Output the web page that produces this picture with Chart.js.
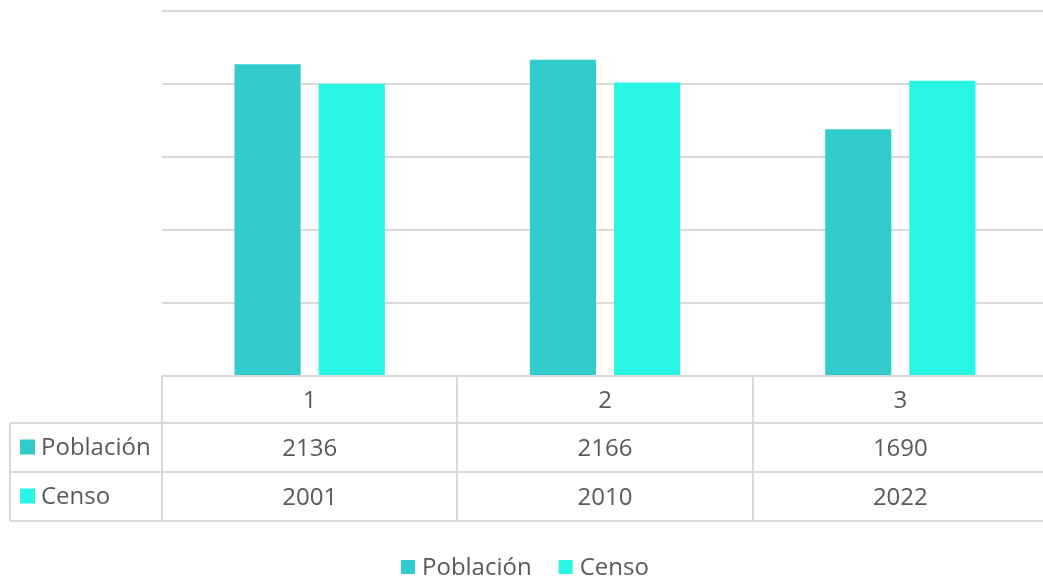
<!DOCTYPE html>
<html>
<head>
<meta charset="utf-8">
<script src="https://cdn.jsdelivr.net/npm/chart.js@4/dist/chart.umd.min.js"></script>
<style>
  html, body { margin: 0; padding: 0; background: #fff; overflow: hidden; }
  #wrap { width: 1048px; height: 580px; }
</style>
</head>
<body>
<div id="wrap"><canvas id="grafico"></canvas></div>
<script>
// Datos del gráfico
var categorias = ['1', '2', '3'];
var poblacion = [2136, 2166, 1690];
var censo = [2001, 2010, 2022];
var nombresSeries = ['Población', 'Censo'];
var coloresSeries = ['#33CCCC', '#29F5E5'];

var colorTexto = '#595959';
var colorLinea = '#d9d9d9';
var fuente = '"Open Sans", sans-serif';

// Tabla de datos y leyenda dibujadas debajo del área del gráfico
var tablaDatos = {
    id: 'tablaDatos',
    afterDraw: function(chart) {
        var ctx = chart.ctx;
        var x = chart.scales.x;
        var area = chart.chartArea;
        var anchoCat = (area.right - area.left) / categorias.length;
        var filas = [area.bottom, 423, 472, 521];
        var izq = 10;

        ctx.save();
        ctx.strokeStyle = colorLinea;
        ctx.lineWidth = 2;
        ctx.beginPath();
        // líneas horizontales
        ctx.moveTo(area.left, filas[0]); ctx.lineTo(area.right, filas[0]);
        for (var f = 1; f < filas.length; f++) {
            ctx.moveTo(izq, filas[f]); ctx.lineTo(area.right, filas[f]);
        }
        // líneas verticales
        ctx.moveTo(izq, filas[1]); ctx.lineTo(izq, filas[3]);
        for (var c = 0; c < categorias.length; c++) {
            var xl = Math.round(area.left + c * anchoCat);
            ctx.moveTo(xl, filas[0]); ctx.lineTo(xl, filas[3]);
        }
        ctx.stroke();

        ctx.fillStyle = colorTexto;
        ctx.font = '24px ' + fuente;
        ctx.textAlign = 'center';
        ctx.textBaseline = 'middle';
        categorias.forEach(function(cat, i) {
            var cx = x.getPixelForValue(i);
            ctx.fillText(cat, cx, (filas[0] + filas[1]) / 2 + 2);
            chart.data.datasets.forEach(function(ds, d) {
                ctx.fillText(String(ds.data[i]), cx, (filas[d + 1] + filas[d + 2]) / 2 + 2);
            });
        });

        // etiquetas de las series en la tabla
        ctx.textAlign = 'left';
        chart.data.datasets.forEach(function(ds, d) {
            var cy = (filas[d + 1] + filas[d + 2]) / 2;
            ctx.fillStyle = ds.backgroundColor;
            ctx.fillRect(20, cy - 8, 15, 15);
            ctx.fillStyle = colorTexto;
            ctx.fillText(ds.label, 41, cy + 1);
        });

        // leyenda inferior
        var anchos = chart.data.datasets.map(function(ds) { return ctx.measureText(ds.label).width; });
        var lx = 401;
        var ly = 567;
        chart.data.datasets.forEach(function(ds, d) {
            ctx.fillStyle = ds.backgroundColor;
            ctx.fillRect(lx, ly - 7, 14, 14);
            ctx.fillStyle = colorTexto;
            ctx.fillText(ds.label, lx + 21, ly + 1);
            lx += 14 + 7 + anchos[d] + 27;
        });
        ctx.restore();
    }
};

var ctx = document.getElementById('grafico').getContext('2d');
var grafico = new Chart(ctx, {
    type: 'bar',
    data: {
        labels: categorias,
        datasets: [{
            label: nombresSeries[0],
            data: poblacion,
            backgroundColor: coloresSeries[0]
        }, {
            label: nombresSeries[1],
            data: censo,
            backgroundColor: coloresSeries[1]
        }]
    },
    options: {
        responsive: true,
        maintainAspectRatio: false,
        animation: false,
        categoryPercentage: 0.57,
        barPercentage: 0.786,
        layout: {
            padding: { top: 11, left: 162, right: 0, bottom: 204 }
        },
        plugins: {
            legend: { display: false },
            tooltip: { enabled: false }
        },
        scales: {
            x: { display: false },
            y: {
                min: 0,
                max: 2500,
                ticks: { display: false, stepSize: 500 },
                border: { display: false },
                grid: { color: colorLinea, lineWidth: 2, drawTicks: false }
            }
        }
    },
    plugins: [tablaDatos]
});
</script>
</body>
</html>
